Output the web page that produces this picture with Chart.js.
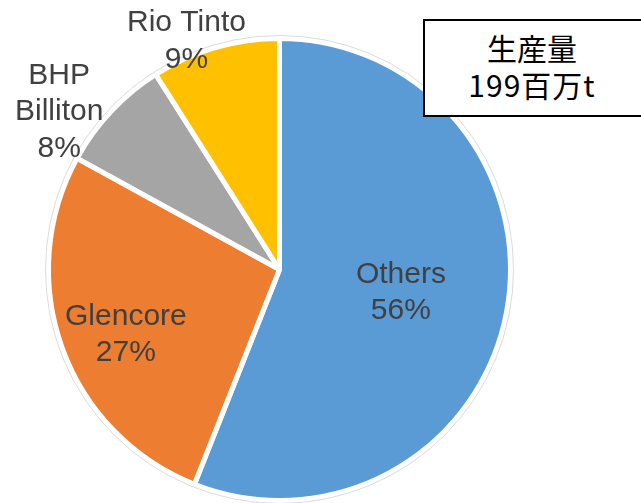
<!DOCTYPE html>
<html lang="ja">
<head>
    <meta charset="UTF-8">
    <title>生産量シェア</title>
    <script src="https://cdn.jsdelivr.net/npm/chart.js"></script>
    <style>
        body { margin: 0; background: #fff; }
        #wrap {
            position: relative;
            width: 641px;
            height: 503px;
            overflow: hidden;
        }
        #totalBox {
            position: absolute;
            left: 423px;
            top: 19px;
            width: 220px;
            height: 98px;
            box-sizing: border-box;
            border: 2px solid #000;
            background: #fff;
            padding-top: 8px;
            padding-right: 2px;
            text-align: center;
            font-family: "Noto Sans CJK JP", sans-serif;
            font-size: 30px;
            line-height: 37px;
            color: #000;
        }
        #totalBox .num { letter-spacing: 1px; }
    </style>
</head>
<body>
    <div id="wrap">
        <canvas id="shareChart"></canvas>
        <div id="totalBox">生産量<br><span class="num">199百万t</span></div>
    </div>

    <script>
        // 会社別シェア(%)
        const categories = ['Others', 'Glencore', 'BHP Billiton', 'Rio Tinto'];
        const nameLines = [['Others'], ['Glencore'], ['BHP', 'Billiton'], ['Rio Tinto']];
        const shares = [56, 27, 8, 9];
        const colors = ['#5B9BD5', '#ED7D31', '#A5A5A5', '#FFC000'];

        // ラベル位置 (半径比 + 微調整)
        const labelPlace = [
            { f: 0.535, dx: 0, dy: 0 },
            { f: 0.716, dx: 2, dy: 9 },
            { f: 1.16, dx: -25, dy: 26 },
            { f: 1.056, dx: -25, dy: 6 }
        ];

        const pieLabels = {
            id: 'pieLabels',
            afterDatasetsDraw(chart) {
                const ctx = chart.ctx;
                const meta = chart.getDatasetMeta(0);
                ctx.save();

                // 外周のうすいグレー線
                const first = meta.data[0];
                ctx.beginPath();
                ctx.arc(first.x, first.y, first.outerRadius + 3, 0, Math.PI * 2);
                ctx.strokeStyle = 'rgba(0, 0, 0, 0.14)';
                ctx.lineWidth = 1;
                ctx.stroke();

                ctx.font = '30px "Liberation Sans", Arial, sans-serif';
                ctx.fillStyle = '#404040';
                ctx.textAlign = 'center';
                ctx.textBaseline = 'middle';
                meta.data.forEach((arc, i) => {
                    const { x, y, startAngle, endAngle, outerRadius } =
                        arc.getProps(['x', 'y', 'startAngle', 'endAngle', 'outerRadius'], true);
                    const mid = (startAngle + endAngle) / 2;
                    const p = labelPlace[i];
                    const cx = x + Math.cos(mid) * outerRadius * p.f + p.dx;
                    const cy = y + Math.sin(mid) * outerRadius * p.f + p.dy;
                    const lines = [...nameLines[i], shares[i] + '%'];
                    const lh = 36.5;
                    lines.forEach((t, k) => {
                        ctx.fillText(t, cx, cy + (k - (lines.length - 1) / 2) * lh);
                    });
                });
                ctx.restore();
            }
        };

        const ctx = document.getElementById('shareChart').getContext('2d');
        new Chart(ctx, {
            type: 'pie',
            data: {
                labels: categories,
                datasets: [{
                    data: shares,
                    backgroundColor: colors,
                    borderColor: '#ffffff',
                    borderWidth: 5
                }]
            },
            options: {
                responsive: true,
                maintainAspectRatio: false,
                animation: false,
                layout: {
                    padding: { left: 46, right: 128, top: 36, bottom: 0 }
                },
                plugins: {
                    legend: { display: false },
                    tooltip: { enabled: false }
                }
            },
            plugins: [pieLabels]
        });
    </script>
</body>
</html>
